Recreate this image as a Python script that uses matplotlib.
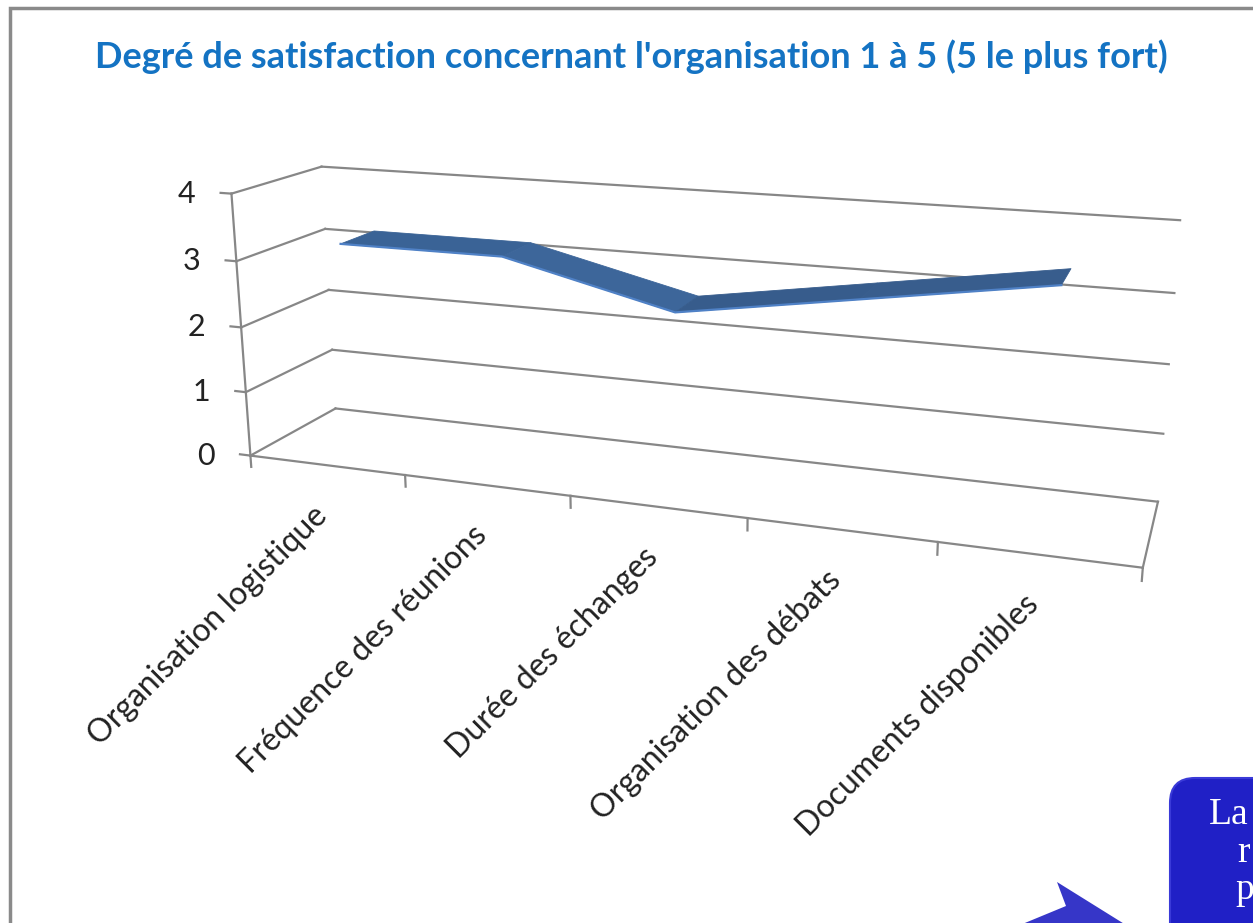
import matplotlib
matplotlib.use("Agg")
import matplotlib.pyplot as plt
import numpy as np
from matplotlib.patches import FancyBboxPatch, Polygon, Rectangle
from matplotlib.transforms import offset_copy
from mpl_toolkits.mplot3d import proj3d
from mpl_toolkits.mplot3d.art3d import Poly3DCollection

# ---------------- data ----------------
categories = ["Organisation logistique", "Fréquence des réunions",
              "Durée des échanges", "Organisation des débats",
              "Documents disponibles"]
values = [3.2, 3.2, 2.6, 3.0, 3.4]
value_ticks = [0, 1, 2, 3, 4]
title = "Degré de satisfaction concernant l'organisation 1 à 5 (5 le plus fort)"
callout_lines = ["La", "r", "p"]

W, H = 1253, 923
fig = plt.figure(figsize=(W / 100, H / 100), dpi=100)
fig.patch.set_facecolor("white")
FONT = ["Lato", "Open Sans", "DejaVu Sans"]


def px(x, y):
    return (x / W, 1 - y / H)


# chart area border (cut by the right/bottom of the picture)
fig.patches.append(Rectangle(px(10, 8 + 1100), 1.2, 1100 / H,
                             transform=fig.transFigure, fill=False,
                             edgecolor="#8a8a8a", lw=2.5, zorder=1))

fig.text(*px(631, 57), title, ha="center", va="center", fontsize=26,
         weight="bold", color="#1473C3", family=FONT)

# ---------------- 3D chart ----------------
cx, cy = 668, 364
Spx = 1400
ax = fig.add_axes([cx / W - Spx / W / 2, 1 - cy / H - Spx / H / 2, Spx / W, Spx / H],
                  projection="3d")
ax.set_proj_type("persp", focal_length=0.225)
ax.view_init(elev=15.5, azim=-70.8)
ax.set_box_aspect((5, 0.95, 1.53), zoom=0.678)
ncat = len(categories)
ax.set_xlim(0, ncat)
ax.set_ylim(0, 1)
ax.set_zlim(value_ticks[0], value_ticks[-1])
ax.set_axis_off()
ax.patch.set_alpha(0)
ax.computed_zorder = False

grid_c = "#878787"
glw = 1.6
for z in value_ticks:
    ax.plot([0, 0], [0, 1], [z, z], color=grid_c, lw=glw, zorder=1)       # side wall
    ax.plot([0, ncat], [1, 1], [z, z], color=grid_c, lw=glw, zorder=1)    # back wall
    ax.plot([0, -0.07], [0, 0], [z, z], color=grid_c, lw=glw, zorder=1)   # tick mark
ax.plot([0, 0], [0, 0], [value_ticks[0], value_ticks[-1]], color=grid_c, lw=glw, zorder=1)
ax.plot([0, ncat], [0, 0], [0, 0], color=grid_c, lw=glw, zorder=1)
ax.plot([ncat, ncat], [0, 1], [0, 0], color=grid_c, lw=glw, zorder=1)
for i in range(ncat + 1):
    ax.plot([i, i], [0, 0], [0, -0.18], color=grid_c, lw=glw, zorder=1)

# ribbon (3D line)
xs = np.arange(ncat) + 0.5
y0, y1 = 0.3, 0.7
quads = []
for i in range(ncat - 1):
    quads.append([(xs[i], y0, values[i]), (xs[i + 1], y0, values[i + 1]),
                  (xs[i + 1], y1, values[i + 1]), (xs[i], y1, values[i])])
seg_colors = ["#3A6396", "#3D669A", "#375C8C", "#385D8D"]
rib = Poly3DCollection(quads, facecolors=seg_colors, edgecolors=seg_colors,
                       linewidth=0.6, zorder=5)
ax.add_collection3d(rib)
ax.plot(xs, [y0] * ncat, values, color="#4F81C6", lw=1.6, zorder=6)

# texts placed through the 3D projection
fig.canvas.draw()
M = ax.get_proj()


def proj(x, y, z):
    X, Y, _ = proj3d.proj_transform(np.array([x]), np.array([y]), np.array([z]), M)
    return float(X[0]), float(Y[0])


lab_tr = offset_copy(ax.transData, fig=fig, x=-15, y=-35, units="dots")
for i, lab in enumerate(categories):
    X, Y = proj(xs[i], 0, 0)
    ax.text2D(X, Y, lab, transform=lab_tr, rotation=45, rotation_mode="anchor",
              ha="right", va="top", fontsize=23, color="#222222", family=FONT)

tick_tr = offset_copy(ax.transData, fig=fig, x=-36, y=0, units="dots")
for z in value_ticks:
    X, Y = proj(0, 0, z)
    ax.text2D(X, Y, str(z), transform=tick_tr, ha="right", va="center",
              fontsize=22, color="#222222", family=FONT)

# ---------------- callout (cut off at the corner) ----------------
box = FancyBboxPatch(px(1170, 1000), 200 / W, (1000 - 778) / H,
                     boxstyle="round,pad=0,rounding_size=0.02",
                     transform=fig.transFigure, facecolor="#2020C6",
                     edgecolor="#3a3ad8", lw=1.5, zorder=3,
                     mutation_aspect=W / H)
fig.patches.append(box)
arrow = Polygon([px(1020, 925), px(1066, 906), px(1057, 882), px(1126, 925)],
                closed=True, transform=fig.transFigure, facecolor="#3636C8",
                edgecolor="none", zorder=3)
fig.patches.append(arrow)
for (tx, ty), t in zip([(1209, 815), (1237, 853), (1235, 890)], callout_lines):
    fig.text(*px(tx, ty), t, ha="left", va="center", fontsize=27,
             color="white", family=["Liberation Serif", "DejaVu Serif"], zorder=4)

fig.savefig("out.png", dpi=100)
